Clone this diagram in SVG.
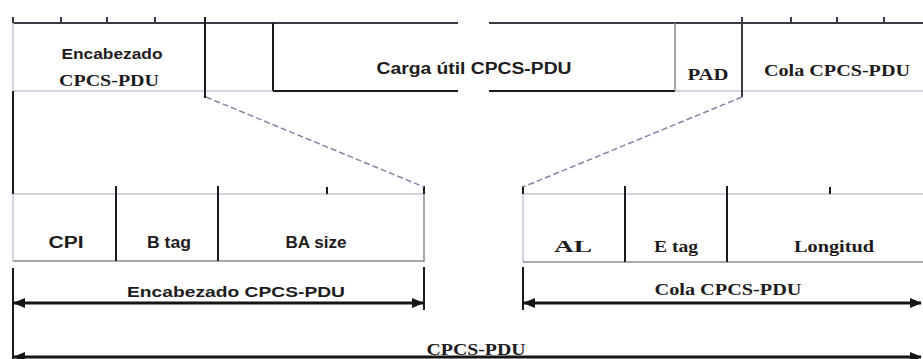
<svg xmlns="http://www.w3.org/2000/svg" width="923" height="359" viewBox="0 0 923 359">
  <defs>
    <style>
      .dark { stroke: #3f3744; stroke-width: 2; fill: none; }
      .blk { stroke: #1c1a1e; stroke-width: 2; fill: none; }
      .light { stroke: #c9c5d6; stroke-width: 1.5; fill: none; }
      .mid { stroke: #8f8a96; stroke-width: 1.5; fill: none; }
      .dash { stroke: #8d80a6; stroke-width: 1.5; stroke-dasharray: 6 3; fill: none; }
      .arrow { stroke: #161416; stroke-width: 3; fill: none; }
      .sans { font-family: "Liberation Sans", Arial, sans-serif; font-weight: bold; fill: #1e1c20; }
      .serif { font-family: "Liberation Serif", "Times New Roman", serif; font-weight: bold; fill: #1e1c20; }
    </style>
    <marker id="head" viewBox="0 0 12 10" refX="11" refY="5" markerWidth="12" markerHeight="10" markerUnits="userSpaceOnUse" orient="auto-start-reverse">
      <path d="M0,0 L12,5 L0,10 Z" fill="#161416"/>
    </marker>
  </defs>

  <!-- upper frame: CPCS-PDU -->
  <g id="pdu-frame">
    <path class="dark" d="M13,23 H458 M489,23 H923"/>
    <path class="dark" d="M13,17 V23 M61,17 V23 M107,17 V23 M155,17 V23 M791,17 V23 M837,17 V23 M884,17 V23"/>
    <path class="light" d="M13,23 V91 M13,91 H273 M675,91 H742 M742,91 H923"/>
    <path class="blk" d="M273,91 H458 M489,91 H675"/>
  </g>

  <g id="header-field">
    <text class="sans" x="112" y="59" font-size="15" text-anchor="middle" textLength="101" lengthAdjust="spacingAndGlyphs">Encabezado</text>
    <text class="serif" x="109" y="86" font-size="16" text-anchor="middle" textLength="100" lengthAdjust="spacingAndGlyphs">CPCS-PDU</text>
  </g>

  <g id="gap-field">
    <path class="blk" d="M205,17 V98"/>
    <path class="blk" d="M273,23 V91"/>
  </g>

  <g id="payload-field">
    <text class="sans" x="474" y="74" font-size="16" text-anchor="middle" textLength="195" lengthAdjust="spacingAndGlyphs">Carga útil CPCS-PDU</text>
  </g>

  <g id="pad-field">
    <path class="mid" d="M675,23 V91"/>
    <text class="serif" x="708" y="80" font-size="16" text-anchor="middle" textLength="41" lengthAdjust="spacingAndGlyphs">PAD</text>
  </g>

  <g id="trailer-field">
    <path class="dark" d="M742,17 V97"/>
    <text class="serif" x="837" y="76" font-size="16" text-anchor="middle" textLength="146" lengthAdjust="spacingAndGlyphs">Cola CPCS-PDU</text>
  </g>

  <!-- lower left: header breakdown -->
  <g id="header-detail">
    <path class="light" d="M13,194 H424 M13,194 V261"/>
    <path class="mid" d="M13,261 H424 M424,194 V262"/>
    <path class="blk" d="M116,186 V261 M218,186 V261 M327,187 V194 M424,186 V194"/>
    <text class="sans" x="66" y="248" font-size="16" text-anchor="middle" textLength="35" lengthAdjust="spacingAndGlyphs">CPI</text>
    <text class="sans" x="169" y="248" font-size="16" text-anchor="middle" textLength="44" lengthAdjust="spacingAndGlyphs">B tag</text>
    <text class="sans" x="316" y="248" font-size="16" text-anchor="middle" textLength="61" lengthAdjust="spacingAndGlyphs">BA size</text>
  </g>

  <!-- lower right: trailer breakdown -->
  <g id="trailer-detail">
    <path class="light" d="M523,194 H923 M523,194 V262"/>
    <path class="mid" d="M523,262 H923"/>
    <path class="blk" d="M523,186 V194 M625,186 V262 M727,186 V262 M830,187 V194"/>
    <text class="serif" x="573" y="252" font-size="16" text-anchor="middle" textLength="38" lengthAdjust="spacingAndGlyphs">AL</text>
    <text class="serif" x="676" y="252" font-size="16" text-anchor="middle" textLength="44" lengthAdjust="spacingAndGlyphs">E tag</text>
    <text class="serif" x="834" y="252" font-size="16" text-anchor="middle" textLength="80" lengthAdjust="spacingAndGlyphs">Longitud</text>
  </g>

  <!-- connectors: expansion guides and span arrows -->
  <g id="connectors">
    <path class="dash" d="M206,97 L424,187"/>
    <path class="dash" d="M742,97 L523,187"/>
    <path class="blk" d="M13,91 V194 M13,268 V359 M424,267 V310 M523,267 V310"/>
    <path class="arrow" d="M14,303 H423" marker-start="url(#head)" marker-end="url(#head)"/>
    <path class="arrow" d="M524,303 H921" marker-start="url(#head)" marker-end="url(#head)"/>
    <path class="arrow" d="M14,357 H921" marker-start="url(#head)" marker-end="url(#head)"/>
    <text class="sans" x="236" y="297" font-size="15" text-anchor="middle" textLength="218" lengthAdjust="spacingAndGlyphs">Encabezado  CPCS-PDU</text>
    <text class="serif" x="728" y="295" font-size="16" text-anchor="middle" textLength="147" lengthAdjust="spacingAndGlyphs">Cola CPCS-PDU</text>
    <text class="serif" x="476" y="355" font-size="16" text-anchor="middle" textLength="99" lengthAdjust="spacingAndGlyphs">CPCS-PDU</text>
  </g>
</svg>
